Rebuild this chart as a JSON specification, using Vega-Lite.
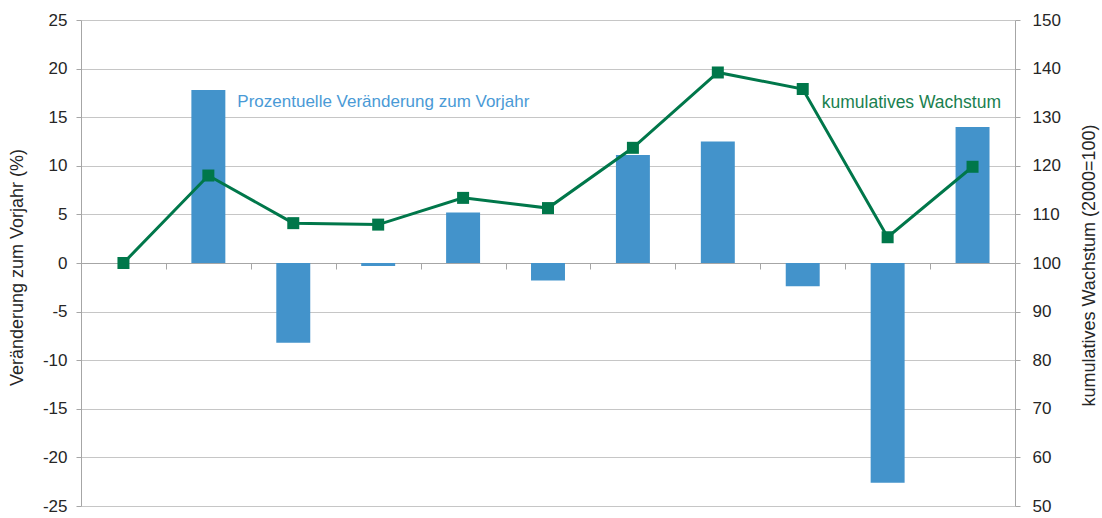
{
  "$schema": "https://vega.github.io/schema/vega-lite/v6.json",
  "width": 934,
  "height": 486,
  "autosize": "none",
  "padding": {"left": 81, "top": 20, "right": 87, "bottom": 12},
  "background": "white",
  "config": {
    "view": {"stroke": null},
    "font": "Liberation Sans",
    "axis": {
      "labelFont": "Liberation Sans",
      "titleFont": "Liberation Sans",
      "labelFontSize": 17,
      "titleFontSize": 18,
      "titleFontWeight": "normal",
      "labelColor": "#262626",
      "titleColor": "#262626",
      "domainColor": "#a6a6a6",
      "tickColor": "#a6a6a6",
      "gridColor": "#c6c6c6",
      "domainWidth": 1,
      "tickWidth": 1,
      "gridWidth": 1
    }
  },
  "datasets": {
    "werte": [
      {"Jahr": "2000", "Veraenderung": 0, "Index": 100},
      {"Jahr": "2001", "Veraenderung": 17.8, "Index": 118.0},
      {"Jahr": "2002", "Veraenderung": -8.2, "Index": 108.2},
      {"Jahr": "2003", "Veraenderung": -0.3, "Index": 107.9},
      {"Jahr": "2004", "Veraenderung": 5.2, "Index": 113.4},
      {"Jahr": "2005", "Veraenderung": -1.8, "Index": 111.3},
      {"Jahr": "2006", "Veraenderung": 11.1, "Index": 123.7},
      {"Jahr": "2007", "Veraenderung": 12.5, "Index": 139.2},
      {"Jahr": "2008", "Veraenderung": -2.4, "Index": 135.8},
      {"Jahr": "2009", "Veraenderung": -22.6, "Index": 105.3},
      {"Jahr": "2010", "Veraenderung": 14.0, "Index": 119.8}
    ],
    "label_balken": [
      {"Jahr": "2001", "Veraenderung": 16.6, "Text": "Prozentuelle Veränderung zum Vorjahr"}
    ],
    "label_linie": [
      {"Jahr": "2008", "Index": 133.0, "Text": "kumulatives Wachstum"}
    ]
  },
  "layer": [
    {
      "layer": [
        {
          "data": {"name": "werte"},
          "mark": {"type": "bar", "color": "#4393CB", "width": {"band": 0.4}},
          "encoding": {
            "x": {
              "field": "Jahr",
              "type": "ordinal",
              "scale": {"paddingInner": 0, "paddingOuter": 0},
              "axis": {
                "orient": "bottom",
                "offset": -243,
                "labels": false,
                "title": null,
                "grid": false,
                "tickBand": "extent",
                "tickSize": 6,
                "domain": true,
                "ticks": true
              }
            },
            "y": {
              "field": "Veraenderung",
              "type": "quantitative",
              "scale": {"domain": [-25, 25], "nice": false, "zero": false},
              "axis": {
                "orient": "left",
                "values": [-25, -20, -15, -10, -5, 0, 5, 10, 15, 20, 25],
                "labelExpr": "replace(datum.label, '−', '-')",
                "title": "Veränderung zum Vorjahr (%)",
                "titleAngle": 270,
                "titleX": -64,
                "titleY": 247,
                "titleAlign": "center",
                "titleBaseline": "middle",
                "grid": true,
                "tickSize": 5,
                "labelPadding": 9
              }
            }
          }
        },
        {
          "data": {"name": "label_balken"},
          "mark": {"type": "text", "align": "left", "baseline": "middle", "dx": 29, "fontSize": 17, "color": "#4A9AD6", "font": "Liberation Sans"},
          "encoding": {
            "x": {"field": "Jahr", "type": "ordinal"},
            "y": {"field": "Veraenderung", "type": "quantitative"},
            "text": {"field": "Text"}
          }
        }
      ]
    },
    {
      "layer": [
        {
          "data": {"name": "werte"},
          "mark": {"type": "line", "color": "#00774A", "strokeWidth": 3},
          "encoding": {
            "x": {"field": "Jahr", "type": "ordinal"},
            "y": {
              "field": "Index",
              "type": "quantitative",
              "scale": {"domain": [50, 150], "nice": false, "zero": false},
              "axis": {
                "orient": "right",
                "values": [50, 60, 70, 80, 90, 100, 110, 120, 130, 140, 150],
                "title": "kumulatives Wachstum (2000=100)",
                "titleAngle": 270,
                "titleX": 74,
                "titleY": 245,
                "titleAlign": "center",
                "titleBaseline": "middle",
                "grid": false,
                "tickSize": 5,
                "labelPadding": 12
              }
            }
          }
        },
        {
          "data": {"name": "werte"},
          "mark": {"type": "point", "shape": "square", "filled": true, "opacity": 1, "size": 144, "color": "#00774A"},
          "encoding": {
            "x": {"field": "Jahr", "type": "ordinal"},
            "y": {"field": "Index", "type": "quantitative"}
          }
        },
        {
          "data": {"name": "label_linie"},
          "mark": {"type": "text", "align": "left", "baseline": "middle", "dx": 19, "fontSize": 17.5, "color": "#1A7F4F", "font": "Liberation Sans"},
          "encoding": {
            "x": {"field": "Jahr", "type": "ordinal"},
            "y": {"field": "Index", "type": "quantitative"},
            "text": {"field": "Text"}
          }
        }
      ]
    }
  ],
  "resolve": {"scale": {"y": "independent"}}
}
